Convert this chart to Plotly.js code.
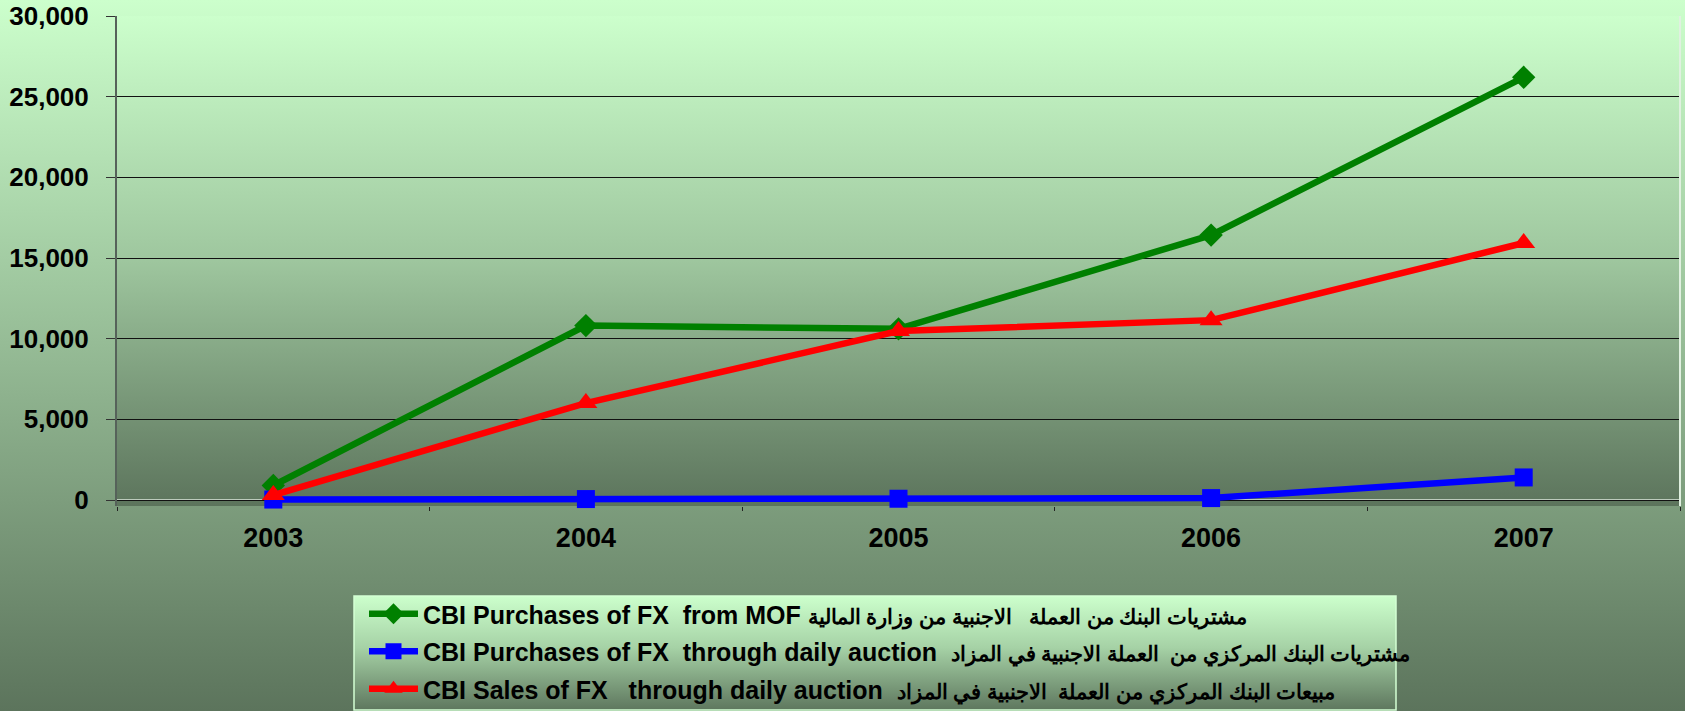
<!DOCTYPE html>
<html>
<head>
<meta charset="utf-8">
<script src="https://cdn.plot.ly/plotly-3.0.1.min.js"></script>
<style>
  html, body { margin: 0; padding: 0; }
  #chart { width: 1685px; height: 711px; background: linear-gradient(to bottom, #ccffcc 0%, #5c745c 100%); }
</style>
</head>
<body>
<div id="chart"></div>
<script>
// ---- data ----
const years = ["2003", "2004", "2005", "2006", "2007"];
const purchasesFromMOF = [900, 10810, 10610, 16420, 26200];
const purchasesAuction = [30, 60, 80, 120, 1400];
const salesAuction = [310, 6010, 10470, 11150, 15930];
const seriesEn = [
  "CBI Purchases of FX\u00a0 from MOF",
  "CBI Purchases of FX\u00a0 through daily auction\u00a0",
  "CBI Sales of FX\u00a0\u00a0 through daily auction\u00a0"
];
const seriesAr = [
  "مشتريات البنك من العملة \u00a0 الاجنبية من وزارة المالية",
  "مشتريات البنك المركزي من\u00a0 العملة الاجنبية في المزاد",
  "مبيعات البنك المركزي من العملة\u00a0 الاجنبية في المزاد"
];
const yTicks = [0, 5000, 10000, 15000, 20000, 25000, 30000];

function gradURI(stops) {
  let s = "<svg xmlns='http://www.w3.org/2000/svg' width='100' height='100' preserveAspectRatio='none'>" +
    "<defs><linearGradient id='g' x1='0' y1='0' x2='0' y2='1'>";
  stops.forEach(st => { s += "<stop offset='" + st[0] + "' stop-color='" + st[1] + "'/>"; });
  s += "</linearGradient></defs><rect width='100' height='100' fill='url(#g)'/></svg>";
  return "data:image/svg+xml;charset=utf-8," + encodeURIComponent(s);
}
function legendName(i) {
  return seriesEn[i] + " <span style='font-size:20.5px'>" + seriesAr[i] + "</span>";
}

const W = 1685, H = 711;
// plot area extends 6px below the zero line so the thick lines near 0 are not clipped
const M = {l: 117, r: 5, t: 16, b: 205, autoexpand: false};
const pw = W - M.l - M.r, ph = H - M.t - M.b;
function px2x(px) { return (px - M.l) / pw; }
function py2y(py) { return (H - M.b - py) / ph; }

const lineW = 6.5;
const traces = [
  {x: years, y: purchasesFromMOF, name: legendName(0), type: "scatter", mode: "lines+markers", cliponaxis: false,
   line: {color: "#008000", width: lineW}, marker: {symbol: "diamond", size: 18, color: "#008000"}, legendgroup: "a"},
  {x: years, y: purchasesAuction, name: legendName(1), type: "scatter", mode: "lines+markers", cliponaxis: false,
   line: {color: "#0000ff", width: lineW}, marker: {symbol: "square", size: 18, color: "#0000ff"}, legendgroup: "b"},
  {x: years, y: salesAuction, name: legendName(2), type: "scatter", mode: "lines+markers", cliponaxis: false,
   line: {color: "#ff0000", width: lineW}, marker: {symbol: "triangle-up", size: 20, color: "#ff0000"}, legendgroup: "c"}
];

const legL = 354, legR = 1396, legT = 596, legB = 710;

const layout = {
  width: W, height: H,
  margin: M,
  paper_bgcolor: "rgba(0,0,0,0)",
  plot_bgcolor: "rgba(0,0,0,0)",
  showlegend: true,
  font: {family: "Liberation Sans, Arial, sans-serif", color: "#000"},
  xaxis: {
    type: "category",
    range: [-0.5, 4.5],
    showgrid: false,
    showline: false,
    ticks: "outside", tickson: "boundaries", ticklen: 4, tickcolor: "#222", tickwidth: 1,
    ticklabelstandoff: 13,
    tickfont: {size: 27, weight: "bold", family: "Liberation Sans, Arial, sans-serif"},
    fixedrange: true
  },
  yaxis: {
    range: [-370, 30000],
    tickvals: yTicks,
    tickformat: ",d",
    showgrid: true, gridcolor: "#111", gridwidth: 1,
    zeroline: false,
    showline: true, linecolor: "#56625a", linewidth: 2,
    ticks: "outside", ticklen: 9, tickcolor: "#333", tickwidth: 1,
    ticklabelstandoff: 12,
    tickfont: {size: 26, weight: "bold", family: "Liberation Sans, Arial, sans-serif"},
    fixedrange: true
  },
  legend: {
    x: px2x(legL + 10), xanchor: "left",
    y: py2y(legT - 5), yanchor: "top",
    bgcolor: "rgba(0,0,0,0)", borderwidth: 0,
    traceorder: "grouped", tracegroupgap: 2,
    itemwidth: 49,
    font: {size: 25, weight: "bold", family: "Liberation Sans, Arial, sans-serif", color: "#000"}
  },
  images: [
    {source: gradURI([[0, "#ccffcc"], [0.5, "#9ec69e"], [1, "#5c745c"]]),
     xref: "paper", yref: "paper", x: 0, y: 1, sizex: 1, sizey: 1,
     xanchor: "left", yanchor: "top", sizing: "stretch", layer: "below"},
    {source: gradURI([[0, "#ccffcc"], [0.45, "#a6d2a6"], [1, "#5e775e"]]),
     xref: "paper", yref: "paper", x: px2x(legL), y: py2y(legT),
     sizex: (legR - legL) / pw, sizey: (legB - legT) / ph,
     xanchor: "left", yanchor: "top", sizing: "stretch", layer: "below"}
  ],
  shapes: [
    // category axis line at value 0
    {type: "line", xref: "paper", yref: "y", x0: 0, x1: 1, y0: 0, y1: 0,
     line: {color: "#dde8dd", width: 1.5}, layer: "below"},
    {type: "rect", xref: "paper", yref: "paper",
     x0: px2x(legL), x1: px2x(legR), y0: py2y(legB), y1: py2y(legT),
     line: {color: "#d4ffd4", width: 1.5}, fillcolor: "rgba(0,0,0,0)", layer: "above"},
    {type: "line", xref: "paper", yref: "paper", x0: 1, x1: 1, y0: 0, y1: 1,
     line: {color: "#e0f0e0", width: 2}, layer: "above"}
  ]
};

Plotly.newPlot("chart", traces, layout, {displayModeBar: false, staticPlot: true});
</script>
</body>
</html>
